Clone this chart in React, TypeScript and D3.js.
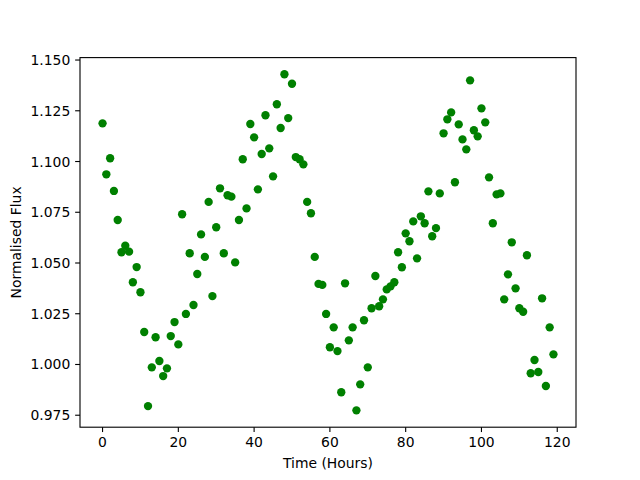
import React from "react";
import * as d3 from "d3";

const hours: number[] = Array.from({ length: 120 }, (_, i) => i);
const flux: number[] = [
  1.1188, 1.0937, 1.1016, 1.0855, 1.0712, 1.0553, 1.0585, 1.0556, 1.0405, 1.0480,
  1.0356, 1.0160, 0.9795, 0.9986, 1.0134, 1.0017, 0.9943, 0.9981, 1.0140, 1.0209,
  1.0099, 1.0740, 1.0249, 1.0548, 1.0293, 1.0446, 1.0641, 1.0530, 1.0801, 1.0337,
  1.0676, 1.0868, 1.0548, 1.0834, 1.0827, 1.0503, 1.0712, 1.1011, 1.0769, 1.1185,
  1.1119, 1.0863, 1.1037, 1.1228, 1.1065, 1.0927, 1.1282, 1.1165, 1.1430, 1.1214,
  1.1383, 1.1022, 1.1011, 1.0986, 1.0801, 1.0745, 1.0530, 1.0397, 1.0392, 1.0249,
  1.0085, 1.0183, 1.0066, 0.9863, 1.0400, 1.0119, 1.0183, 0.9774, 0.9902, 1.0218,
  0.9986, 1.0277, 1.0436, 1.0287, 1.0321, 1.0370, 1.0385, 1.0405, 1.0553, 1.0479,
  1.0646, 1.0607, 1.0705, 1.0523, 1.0730, 1.0696, 1.0853, 1.0632, 1.0672, 1.0843,
  1.1139, 1.1208, 1.1242, 1.0898, 1.1183, 1.1109, 1.1060, 1.1400, 1.1154, 1.1124,
  1.1262, 1.1193, 1.0922, 1.0696, 1.0838, 1.0843, 1.0321, 1.0444, 1.0602, 1.0375,
  1.0277, 1.0260, 1.0538, 0.9957, 1.0022, 0.9963, 1.0326, 0.9894, 1.0183, 1.0050,
];
const xTicks: number[] = [0, 20, 40, 60, 80, 100, 120];
const yTicks: number[] = [0.975, 1.0, 1.025, 1.05, 1.075, 1.1, 1.125, 1.15];
const xLabel = "Time (Hours)";
const yLabel = "Normalised Flux";

export default function App() {
  const W = 640, H = 480;
  const left = 80, right = 576, top = 57.6, bottom = 427.2;
  const xPad = (d3.max(hours)! - d3.min(hours)!) * 0.05;
  const x = d3.scaleLinear()
    .domain([d3.min(hours)! - xPad, d3.max(hours)! + xPad])
    .range([left, right]);
  const y = d3.scaleLinear().domain([0.9691, 1.1512]).range([bottom, top]);
  const font = "DejaVu Sans, sans-serif";
  const fs = 13.9;
  const tickLen = 4.86;
  return (
    <svg width={W} height={H} style={{ position: "absolute", left: 0, top: 0, background: "#fff" }}>
      <rect x={0} y={0} width={W} height={H} fill="#fff" />
      <g>
        {hours.map((h, i) => (
          <circle key={i} cx={x(h)} cy={y(flux[i])} r={4.17} fill="#008000" />
        ))}
      </g>
      <rect x={left} y={top} width={right - left} height={bottom - top} fill="none" stroke="#000" strokeWidth={1.11} />
      {xTicks.map((t) => (
        <g key={t}>
          <line x1={x(t)} x2={x(t)} y1={bottom} y2={bottom + tickLen} stroke="#000" strokeWidth={1.11} />
          <text x={x(t)} y={bottom + 20} textAnchor="middle" fontFamily={font} fontSize={fs} fill="#000">
            {d3.format("d")(t)}
          </text>
        </g>
      ))}
      {yTicks.map((t) => (
        <g key={t}>
          <line x1={left - tickLen} x2={left} y1={y(t)} y2={y(t)} stroke="#000" strokeWidth={1.11} />
          <text x={left - 9.7} y={y(t) + 5} textAnchor="end" fontFamily={font} fontSize={fs} fill="#000">
            {d3.format(".3f")(t)}
          </text>
        </g>
      ))}
      <text x={(left + right) / 2} y={468} textAnchor="middle" fontFamily={font} fontSize={fs} fill="#000">
        {xLabel}
      </text>
      <text
        transform={`translate(21,${(top + bottom) / 2}) rotate(-90)`}
        textAnchor="middle"
        fontFamily={font}
        fontSize={fs}
        fill="#000"
      >
        {yLabel}
      </text>
    </svg>
  );
}
